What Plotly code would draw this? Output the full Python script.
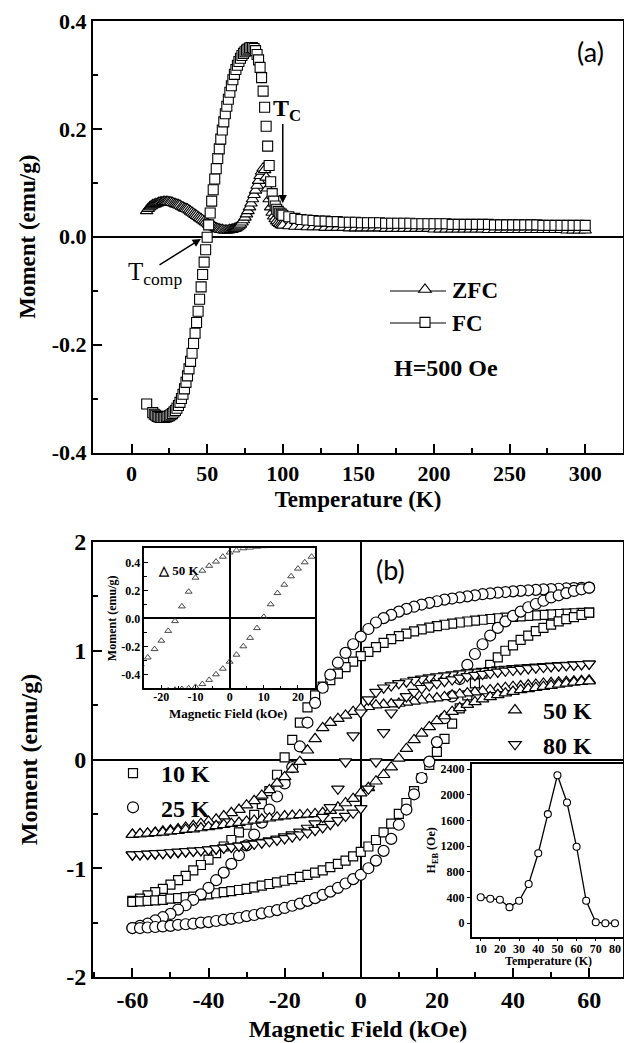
import plotly.graph_objects as go

W, H = 624, 1043
SERIF = "Liberation Serif"
SANS = "Lato"

# ---------------- (a) ZFC / FC magnetisation vs temperature, H = 500 Oe ----------------
temp_zfc = list(range(10, 101)) + list(range(104, 301, 4))
m_zfc = [
    0.048, 0.052, 0.055, 0.057, 0.059, 0.060, 0.061, 0.062, 0.063, 0.064,
    0.064, 0.065, 0.065, 0.065, 0.065, 0.064, 0.064, 0.063, 0.062, 0.061,
    0.060, 0.059, 0.058, 0.056, 0.055, 0.053, 0.052, 0.051, 0.049, 0.047,
    0.045, 0.043, 0.041, 0.039, 0.037, 0.035, 0.033, 0.031, 0.029, 0.027,
    0.025, 0.023, 0.022, 0.020, 0.019, 0.018, 0.016, 0.015, 0.014, 0.013,
    0.013, 0.012, 0.012, 0.012, 0.012, 0.013, 0.013, 0.014, 0.015, 0.016,
    0.018, 0.020, 0.023, 0.027, 0.031, 0.036, 0.042, 0.048, 0.055, 0.062,
    0.070, 0.078, 0.086, 0.095, 0.104, 0.113, 0.121, 0.127, 0.124, 0.110,
    0.090, 0.070, 0.055, 0.045, 0.038, 0.033, 0.029, 0.026, 0.024, 0.022,
    0.021,
    0.020, 0.019, 0.019, 0.018, 0.018, 0.018, 0.017, 0.017, 0.017, 0.017,
    0.016, 0.016, 0.016, 0.016, 0.016, 0.016, 0.015, 0.015, 0.015, 0.015,
    0.015, 0.015, 0.015, 0.015, 0.014, 0.014, 0.014, 0.014, 0.014, 0.014,
    0.014, 0.014, 0.014, 0.013, 0.013, 0.013, 0.013, 0.013, 0.013, 0.013,
    0.013, 0.013, 0.013, 0.013, 0.013, 0.013, 0.012, 0.012, 0.012, 0.012,
]

temp_fc = [10] + list(range(14, 101)) + list(range(104, 301, 4))
m_fc = [
    -0.310,
    -0.326, -0.329, -0.331, -0.333, -0.334, -0.335, -0.335, -0.335, -0.335, -0.334,
    -0.333, -0.332, -0.330, -0.328, -0.325, -0.322, -0.318, -0.313, -0.307, -0.300,
    -0.292, -0.282, -0.270, -0.258, -0.245, -0.231, -0.216, -0.198, -0.179, -0.159,
    -0.138, -0.116, -0.093, -0.070, -0.047, -0.024, -0.001, 0.022, 0.044, 0.066,
    0.087, 0.107, 0.126, 0.145, 0.163, 0.181, 0.198, 0.213, 0.228, 0.242,
    0.255, 0.268, 0.280, 0.291, 0.301, 0.310, 0.318, 0.325, 0.331, 0.336,
    0.340, 0.343, 0.346, 0.348, 0.350, 0.351, 0.351, 0.349, 0.345, 0.338,
    0.328, 0.314, 0.295, 0.270, 0.240, 0.205, 0.168, 0.132, 0.102, 0.080,
    0.066, 0.057, 0.051, 0.047, 0.044, 0.042, 0.040,
    0.037, 0.034, 0.032, 0.031, 0.030, 0.029, 0.029, 0.028, 0.028, 0.027,
    0.027, 0.027, 0.026, 0.026, 0.026, 0.026, 0.025, 0.025, 0.025, 0.025,
    0.025, 0.024, 0.024, 0.024, 0.024, 0.024, 0.024, 0.023, 0.023, 0.023,
    0.023, 0.023, 0.023, 0.023, 0.022, 0.022, 0.022, 0.022, 0.022, 0.022,
    0.022, 0.022, 0.021, 0.021, 0.021, 0.021, 0.021, 0.021, 0.021, 0.021,
]

temp_ticks = [0, 50, 100, 150, 200, 250, 300]
temp_ticktext = ["0", "50", "100", "150", "200", "250", "300"]
ma_ticks = [-0.4, -0.2, 0.0, 0.2, 0.4]
ma_ticktext = ["-0.4", "-0.2", "0.0", "0.2", "0.4"]

# ---------------- (b) hysteresis loops ----------------
field_down = list(range(60, -61, -2))
field_up = list(range(-60, 61, 2))

m10_down = [
    1.350, 1.348, 1.345, 1.342, 1.338, 1.334, 1.330, 1.326, 1.321, 1.316,
    1.311, 1.305, 1.299, 1.292, 1.285, 1.277, 1.269, 1.260, 1.250, 1.239,
    1.227, 1.213, 1.197, 1.179, 1.158, 1.134, 1.106, 1.073, 1.034, 0.990,
    0.950, 0.900, 0.850, 0.790, 0.730, 0.670, 0.590, 0.480, 0.340, 0.180,
    0.020, -0.140, -0.290, -0.410, -0.510, -0.600, -0.670, -0.740, -0.800, -0.860,
    -0.920, -0.970, -1.020, -1.070, -1.110, -1.150, -1.190, -1.220, -1.250, -1.280,
    -1.300,
]
m10_up = [
    -1.310, -1.305, -1.300, -1.295, -1.290, -1.280, -1.275, -1.265, -1.260, -1.250,
    -1.240, -1.230, -1.220, -1.210, -1.200, -1.190, -1.175, -1.160, -1.145, -1.130,
    -1.115, -1.100, -1.080, -1.060, -1.040, -1.020, -0.990, -0.960, -0.930, -0.890,
    -0.850, -0.800, -0.740, -0.670, -0.590, -0.500, -0.400, -0.290, -0.170, -0.050,
    0.070, 0.190, 0.330, 0.470, 0.590, 0.700, 0.790, 0.870, 0.940, 1.000,
    1.050, 1.100, 1.140, 1.180, 1.210, 1.240, 1.270, 1.290, 1.310, 1.330,
    1.350,
]

m25_down = [
    1.580, 1.578, 1.576, 1.573, 1.570, 1.567, 1.564, 1.560, 1.556, 1.551,
    1.546, 1.540, 1.534, 1.527, 1.520, 1.510, 1.500, 1.490, 1.480, 1.470,
    1.455, 1.440, 1.425, 1.405, 1.385, 1.360, 1.330, 1.300, 1.260, 1.200,
    1.130, 1.060, 0.980, 0.890, 0.780, 0.660, 0.520, 0.340, 0.120, -0.070,
    -0.220, -0.340, -0.460, -0.580, -0.690, -0.790, -0.880, -0.960, -1.040, -1.110,
    -1.180, -1.240, -1.290, -1.340, -1.380, -1.420, -1.450, -1.480, -1.510, -1.530,
    -1.550,
]
m25_up = [
    -1.550, -1.550, -1.545, -1.540, -1.535, -1.530, -1.520, -1.515, -1.510, -1.500,
    -1.495, -1.485, -1.475, -1.465, -1.455, -1.440, -1.430, -1.415, -1.400, -1.385,
    -1.365, -1.345, -1.325, -1.300, -1.275, -1.245, -1.215, -1.180, -1.140, -1.100,
    -1.060, -1.000, -0.930, -0.840, -0.730, -0.600, -0.460, -0.320, -0.170, -0.020,
    0.160, 0.380, 0.580, 0.740, 0.870, 0.970, 1.060, 1.140, 1.210, 1.270,
    1.320, 1.360, 1.400, 1.430, 1.460, 1.490, 1.510, 1.530, 1.550, 1.565,
    1.580,
]

m50_down = [
    0.730, 0.725, 0.720, 0.715, 0.710, 0.705, 0.700, 0.690, 0.685, 0.675,
    0.670, 0.660, 0.650, 0.640, 0.630, 0.620, 0.610, 0.600, 0.590, 0.575,
    0.565, 0.555, 0.545, 0.535, 0.525, 0.515, 0.510, 0.505, 0.500, 0.485,
    0.470, 0.440, 0.405, 0.375, 0.340, 0.290, 0.190, 0.085, -0.020, -0.090,
    -0.160, -0.220, -0.280, -0.330, -0.380, -0.420, -0.460, -0.490, -0.520, -0.550,
    -0.570, -0.590, -0.610, -0.625, -0.640, -0.650, -0.660, -0.670, -0.680, -0.685,
    -0.690,
]
m50_up = [
    -0.690, -0.685, -0.680, -0.675, -0.670, -0.660, -0.655, -0.645, -0.640, -0.630,
    -0.620, -0.610, -0.600, -0.590, -0.580, -0.570, -0.560, -0.550, -0.540, -0.530,
    -0.520, -0.515, -0.510, -0.505, -0.500, -0.490, -0.470, -0.440, -0.400, -0.360,
    -0.310, -0.260, -0.200, -0.140, -0.070, 0.010, 0.100, 0.180, 0.240, 0.300,
    0.355, 0.400, 0.440, 0.475, 0.505, 0.530, 0.555, 0.575, 0.595, 0.610,
    0.625, 0.640, 0.650, 0.660, 0.670, 0.680, 0.690, 0.700, 0.710, 0.715,
    0.720,
]

m80_down = [
    0.880, 0.876, 0.872, 0.869, 0.865, 0.861, 0.857, 0.853, 0.848, 0.843,
    0.838, 0.832, 0.826, 0.820, 0.813, 0.806, 0.798, 0.790, 0.781, 0.772,
    0.763, 0.753, 0.742, 0.730, 0.715, 0.700, 0.680, 0.660, 0.620, 0.550,
    0.430, 0.220, -0.020, -0.270, -0.440, -0.530, -0.590, -0.630, -0.665, -0.690,
    -0.710, -0.730, -0.745, -0.760, -0.772, -0.783, -0.793, -0.803, -0.812, -0.820,
    -0.828, -0.835, -0.842, -0.848, -0.853, -0.858, -0.862, -0.866, -0.870, -0.873,
    -0.876,
]
m80_up = [
    -0.875, -0.872, -0.868, -0.864, -0.860, -0.855, -0.850, -0.845, -0.840, -0.835,
    -0.828, -0.820, -0.812, -0.804, -0.795, -0.786, -0.776, -0.765, -0.753, -0.740,
    -0.726, -0.710, -0.692, -0.672, -0.650, -0.625, -0.595, -0.560, -0.520, -0.490,
    -0.450, -0.270, -0.020, 0.250, 0.430, 0.520, 0.580, 0.620, 0.655, 0.680,
    0.700, 0.720, 0.735, 0.750, 0.765, 0.775, 0.785, 0.795, 0.805, 0.815,
    0.822, 0.830, 0.837, 0.844, 0.850, 0.856, 0.861, 0.866, 0.871, 0.875,
    0.880,
]

field_ticks = [-60, -40, -20, 0, 20, 40, 60]
field_ticktext = ["-60", "-40", "-20", "0", "20", "40", "60"]
mb_ticks = [-2, -1, 0, 1, 2]
mb_ticktext = ["-2", "-1", "0", "1", "2"]

inset_field_ticks = [-20, -10, 0, 10, 20]
inset_field_ticktext = ["-20", "-10", "0", "10", "20"]
inset_m_ticks = [-0.4, -0.2, 0.0, 0.2, 0.4]
inset_m_ticktext = ["-0.4", "-0.2", "0.0", "0.2", "0.4"]

# exchange-bias field vs temperature
heb_temp = [10, 15, 20, 25, 30, 35, 40, 45, 50, 55, 60, 65, 70, 75, 80]
heb_oe = [405, 380, 365, 250, 350, 610, 1090, 1700, 2305, 1880, 1190, 350, 15, 0, 0]
heb_temp_ticks = [10, 20, 30, 40, 50, 60, 70, 80]
heb_ticks = [0, 400, 800, 1200, 1600, 2000, 2400]


def px(x):
    return x / W


def py(y):
    return 1 - y / H


def open_marker(symbol, size, lw=1.1):
    return dict(symbol=symbol, size=size, color="white",
                line=dict(color="black", width=lw))


fig = go.Figure()

# panel (a)
fig.add_trace(go.Scatter(
    x=temp_zfc, y=m_zfc, name="ZFC", mode="markers",
    marker=open_marker("triangle-up", 11),
    xaxis="x", yaxis="y", legend="legend"))
fig.add_trace(go.Scatter(
    x=temp_fc, y=m_fc, name="FC", mode="markers",
    marker=open_marker("square", 10),
    xaxis="x", yaxis="y", legend="legend"))

# panel (b)
loops = [
    ("10 K", m10_down, m10_up, "square", 9, "legend2"),
    ("25 K", m25_down, m25_up, "circle", 11, "legend2"),
    ("50 K", m50_down, m50_up, "triangle-up", 11, "legend3"),
    ("80 K", m80_down, m80_up, "triangle-down", 11, "legend3"),
]
for name, down, up, sym, size, leg in loops:
    fig.add_trace(go.Scatter(
        x=field_down + field_up, y=down + up, name=name, mode="markers",
        marker=open_marker(sym, size, 1.2),
        xaxis="x2", yaxis="y2", legend=leg))

# inset: 50 K loop close to the origin
fig.add_trace(go.Scatter(
    x=field_down + field_up, y=m50_down + m50_up, mode="markers", showlegend=False,
    marker=dict(symbol="triangle-up-open", size=6, color="#333333", line=dict(width=0.9)),
    xaxis="x3", yaxis="y3"))

# inset: exchange-bias field
fig.add_trace(go.Scatter(
    x=heb_temp, y=heb_oe, mode="lines+markers", showlegend=False,
    line=dict(color="black", width=1.3),
    marker=dict(symbol="circle", size=7, color="white", line=dict(color="black", width=1.1)),
    xaxis="x4", yaxis="y4"))


def axis(**kw):
    base = dict(showline=True, linewidth=2, linecolor="black", mirror=True,
                ticks="inside", tickwidth=2, ticklen=9, tickcolor="black",
                showgrid=False, zeroline=False, automargin=False,
                tickfont=dict(family=SERIF, size=22, color="black", weight="bold"))
    base.update(kw)
    return base


def title(text, size, standoff):
    return dict(text=text, standoff=standoff,
                font=dict(family=SERIF, size=size, color="black", weight="bold"))


def minor(dtick, length=5, width=1.5, ticks="inside"):
    return dict(ticks=ticks, ticklen=length, tickwidth=width, tickcolor="black",
                tickmode="linear", tick0=0, dtick=dtick)


small_font = dict(family=SERIF, size=12, color="black", weight="bold")

fig.update_layout(
    width=W, height=H,
    margin=dict(l=0, r=0, t=0, b=0, autoexpand=False),
    paper_bgcolor="white", plot_bgcolor="white",
    font=dict(family=SERIF, color="black"),
    xaxis=axis(domain=[px(93), px(623)], anchor="y", range=[-25.5, 325],
               tickmode="array", tickvals=temp_ticks, ticktext=temp_ticktext,
               minor=minor(25), title=title("Temperature (K)", 23, 6)),
    yaxis=axis(domain=[py(452.5), py(21)], anchor="x", range=[-0.4, 0.4],
               tickmode="array", tickvals=ma_ticks, ticktext=ma_ticktext,
               minor=minor(0.1), zeroline=True, zerolinecolor="black", zerolinewidth=1.5,
               title=title("Moment (emu/g)", 23, 10)),
    xaxis2=axis(domain=[px(93), px(623)], anchor="y2", range=[-70.35, 68.9],
                tickmode="array", tickvals=field_ticks, ticktext=field_ticktext,
                minor=minor(10), zeroline=True, zerolinecolor="black", zerolinewidth=2,
                tickfont=dict(family=SERIF, size=24, color="black", weight="bold"),
                title=title("Magnetic Field (kOe)", 24, 8)),
    yaxis2=axis(domain=[py(977), py(542)], anchor="x2", range=[-2, 2],
                tickmode="array", tickvals=mb_ticks, ticktext=mb_ticktext,
                minor=minor(0.5), zeroline=True, zerolinecolor="black", zerolinewidth=2,
                tickfont=dict(family=SERIF, size=24, color="black", weight="bold"),
                title=title("Moment (emu/g)", 24, 22)),
    xaxis3=axis(domain=[px(144.3), px(315)], anchor="y3", range=[-25, 25],
                linewidth=1.5, ticklen=4, tickwidth=1.2,
                tickmode="array", tickvals=inset_field_ticks, ticktext=inset_field_ticktext,
                ticklabelstandoff=-3,
                minor=minor(5, 2.5, 1), zeroline=True, zerolinecolor="black", zerolinewidth=1.5,
                tickfont=small_font),
    yaxis3=axis(domain=[py(688.3), py(548.3)], anchor="x3", range=[-0.5, 0.5],
                linewidth=1.5, ticklen=4, tickwidth=1.2,
                tickmode="array", tickvals=inset_m_ticks, ticktext=inset_m_ticktext,
                minor=minor(0.1, 2.5, 1), zeroline=True, zerolinecolor="black", zerolinewidth=1.5,
                tickfont=small_font, title=title("Moment (emu/g)", 12, 2)),
    xaxis4=axis(domain=[px(471.7), px(623)], anchor="y4", range=[5.3, 84.2],
                linewidth=1.5, ticks="outside", ticklen=3, tickwidth=1.2,
                tickmode="array", tickvals=heb_temp_ticks, ticklabelstandoff=-3,
                tickfont=small_font),
    yaxis4=axis(domain=[py(936.7), py(764)], anchor="x4", range=[-210, 2480],
                linewidth=1.5, ticks="outside", ticklen=3, tickwidth=1.2,
                tickmode="array", tickvals=heb_ticks,
                tickfont=small_font, title=title("H<sub>EB</sub> (Oe)", 12, 2)),
    legend=dict(x=px(398), y=py(268), xanchor="left", yanchor="top",
                bgcolor="rgba(0,0,0,0)", itemwidth=44,
                font=dict(family=SERIF, size=23, color="black", weight="bold")),
    legend2=dict(x=px(105), y=py(751), xanchor="left", yanchor="top",
                 bgcolor="rgba(0,0,0,0)", itemwidth=46,
                 font=dict(family=SERIF, size=24, color="black", weight="bold")),
    legend3=dict(x=px(487), y=py(688), xanchor="left", yanchor="top",
                 bgcolor="rgba(0,0,0,0)", itemwidth=46,
                 font=dict(family=SERIF, size=24, color="black", weight="bold")),
    showlegend=True,
)

annotations = [
    dict(text="(a)", x=px(590), y=py(52), xref="paper", yref="paper",
         xanchor="center", yanchor="middle", showarrow=False,
         font=dict(family=SANS, size=27, color="black")),
    dict(text="(b)", x=px(390), y=py(569), xref="paper", yref="paper",
         xanchor="center", yanchor="middle", showarrow=False,
         font=dict(family=SANS, size=27, color="black")),
    dict(text="T<sub>C</sub>", x=px(271), y=py(110), xref="paper", yref="paper",
         xanchor="left", yanchor="middle", showarrow=False,
         font=dict(family=SERIF, size=24, color="black", weight="bold")),
    dict(text="T<sub>comp</sub>", x=px(126), y=py(274), xref="paper", yref="paper",
         xanchor="left", yanchor="middle", showarrow=False,
         font=dict(family=SERIF, size=25, color="black")),
    dict(text="H=500 Oe", x=px(446), y=py(368), xref="paper", yref="paper",
         xanchor="center", yanchor="middle", showarrow=False,
         font=dict(family=SERIF, size=24, color="black", weight="bold")),
    dict(text="△ 50 K", x=px(156), y=py(570), xref="paper", yref="paper",
         xanchor="left", yanchor="middle", showarrow=False,
         font=dict(family=SERIF, size=13, color="black", weight="bold")),
    # inset axis titles, set close to their tick labels
    dict(text="Magnetic Field (kOe)", x=px(228), y=py(713), xref="paper", yref="paper",
         xanchor="center", yanchor="middle", showarrow=False,
         font=dict(family=SERIF, size=13, color="black", weight="bold")),
    dict(text="Temperature (K)", x=px(548), y=py(961), xref="paper", yref="paper",
         xanchor="center", yanchor="middle", showarrow=False,
         font=dict(family=SERIF, size=12, color="black", weight="bold")),
    # arrow marking the Curie temperature
    dict(text="", x=100, y=0.062, ax=100, ay=0.212, xref="x", yref="y",
         axref="x", ayref="y", showarrow=True, arrowhead=2, arrowsize=1.1,
         arrowwidth=1.5, arrowcolor="black"),
    # arrow marking the compensation temperature
    dict(text="", x=45.8, y=-0.004, ax=17.5, ay=-0.054, xref="x", yref="y",
         axref="x", ayref="y", showarrow=True, arrowhead=2, arrowsize=1.1,
         arrowwidth=1.5, arrowcolor="black"),
]

# line keys of the (a) legend, running through the legend symbols
legend_rows = [291, 323]
shapes = [dict(type="line", xref="paper", yref="paper",
               x0=px(390), x1=px(446), y0=py(yy), y1=py(yy),
               line=dict(color="black", width=1.2))
          for yy in legend_rows]

fig.update_layout(annotations=annotations, shapes=shapes)

fig.write_html("out.html")
